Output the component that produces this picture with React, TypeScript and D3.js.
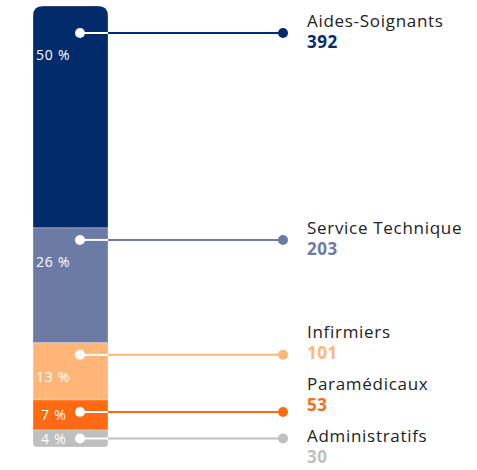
import React, { useRef, useEffect } from "react";
import * as d3 from "d3";

const categories = ["Aides-Soignants", "Service Technique", "Infirmiers", "Paramédicaux", "Administratifs"];
const values = [392, 203, 101, 53, 30];
const percents = ["50 %", "26 %", "13 %", "7 %", "4 %"];
const colors = ["#022b6b", "#6c7aa6", "#ffb677", "#ff6a13", "#bfbfbf"];

const App = () => {
  const svgRef = useRef<SVGSVGElement>(null);

  useEffect(() => {
    const svg = d3.select(svgRef.current);
    const width = 477;
    const height = 470;
    svg.attr("width", width).attr("height", height);
    svg.selectAll("*").remove();

    const barX = 33;
    const barW = 75;
    const top = 6;
    const bottom = 447;
    const dotX = 80;
    const endX = 283;
    const labelX = 307;
    const font = "'Open Sans', sans-serif";

    const total = d3.sum(values);
    const y = d3.scaleLinear().domain([0, total]).range([top, bottom]);

    const starts = d3.cumsum([0, ...values]);
    const data = categories.map((name, i) => {
      const y0 = y(starts[i]);
      const y1 = y(starts[i + 1]);
      const h = y1 - y0;
      const dotY = i === 0 ? y0 + 27 : y0 + Math.min(12, h / 2);
      return { name, value: values[i], pct: percents[i], color: colors[i], y0, y1, h, dotY };
    });

    // rounded bar outline used as clip
    const rt = 10;
    const rb = 4;
    const clipPath = `M${barX},${top + rt} Q${barX},${top} ${barX + rt},${top} L${barX + barW - rt},${top} Q${barX + barW},${top} ${barX + barW},${top + rt} L${barX + barW},${bottom - rb} Q${barX + barW},${bottom} ${barX + barW - rb},${bottom} L${barX + rb},${bottom} Q${barX},${bottom} ${barX},${bottom - rb} Z`;
    svg.append("defs").append("clipPath").attr("id", "barClip").append("path").attr("d", clipPath);

    const bar = svg.append("g").attr("clip-path", "url(#barClip)");
    bar
      .selectAll("rect")
      .data(data)
      .enter()
      .append("rect")
      .attr("x", barX)
      .attr("y", (d) => d.y0)
      .attr("width", barW)
      .attr("height", (d) => d.h)
      .attr("fill", (d) => d.color)
      .attr("stroke", "rgba(255,255,255,0.5)")
      .attr("stroke-width", 0.6);

    // percent labels
    svg
      .selectAll("text.pct")
      .data(data)
      .enter()
      .append("text")
      .attr("class", "pct")
      .attr("x", (d) => (d.h < 40 ? 41 : 36))
      .attr("y", (d) => (d.h < 40 ? (d.y0 + d.y1) / 2 + 5 : d.dotY + 27))
      .attr("fill", "#fff")
      .attr("font-family", font)
      .attr("font-size", 14)
      .attr("letter-spacing", 0.8)
      .text((d) => d.pct);

    // connector lines
    const lines = svg.selectAll("g.conn").data(data).enter().append("g").attr("class", "conn");
    lines
      .append("line")
      .attr("x1", barX + barW)
      .attr("x2", endX)
      .attr("y1", (d) => d.dotY)
      .attr("y2", (d) => d.dotY)
      .attr("stroke", (d) => d.color)
      .attr("stroke-width", 2);
    lines
      .append("line")
      .attr("x1", dotX)
      .attr("x2", barX + barW)
      .attr("y1", (d) => d.dotY)
      .attr("y2", (d) => d.dotY)
      .attr("stroke", "#fff")
      .attr("stroke-width", 2);
    lines
      .append("circle")
      .attr("cx", dotX)
      .attr("cy", (d) => d.dotY)
      .attr("r", 5)
      .attr("fill", "#fff");
    lines
      .append("circle")
      .attr("cx", endX)
      .attr("cy", (d) => d.dotY)
      .attr("r", 5)
      .attr("fill", (d) => d.color);

    // label placement: avoid overlaps, keep groups centred
    const spacing = 52;
    const maxY = 463;
    const desired = data.map((d) => d.dotY + 15);
    let clusters = desired.map((v, i) => ({ idx: [i], pos: v }));
    let changed = true;
    while (changed) {
      changed = false;
      for (let i = 0; i < clusters.length - 1; i++) {
        const a = clusters[i];
        const b = clusters[i + 1];
        const aEnd = a.pos + (a.idx.length - 1) * spacing;
        if (b.pos - aEnd < spacing) {
          const idx = [...a.idx, ...b.idx];
          const mean = d3.mean(idx, (k, j) => desired[k] - j * spacing) as number;
          clusters.splice(i, 2, { idx, pos: mean });
          changed = true;
          break;
        }
      }
    }
    const valueY: number[] = [];
    clusters.forEach((c) => {
      const end = c.pos + (c.idx.length - 1) * spacing;
      const shift = end > maxY ? end - maxY : 0;
      c.idx.forEach((k, j) => (valueY[k] = c.pos - shift + j * spacing));
    });

    const labels = svg.selectAll("g.lbl").data(data).enter().append("g").attr("class", "lbl");
    labels
      .append("text")
      .attr("x", labelX)
      .attr("y", (d, i) => valueY[i] - 21)
      .attr("fill", "#222")
      .attr("font-family", font)
      .attr("font-size", 17)
      .attr("letter-spacing", 0.7)
      .text((d) => d.name);
    labels
      .append("text")
      .attr("x", labelX)
      .attr("y", (d, i) => valueY[i])
      .attr("fill", (d) => d.color)
      .attr("font-family", font)
      .attr("font-weight", "bold")
      .attr("font-size", 17)
      .attr("letter-spacing", 0.5)
      .text((d) => d.value);
  }, []);

  return <svg ref={svgRef} style={{ position: "absolute", left: 0, top: 0 }} />;
};

export default App;
